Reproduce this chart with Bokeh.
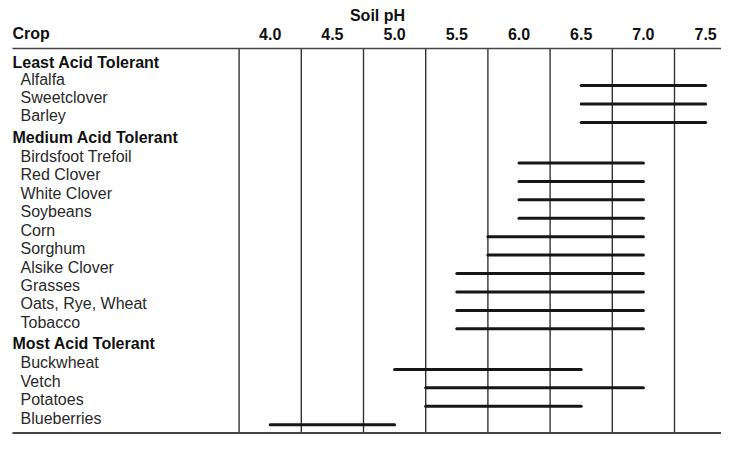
from bokeh.plotting import figure
from bokeh.models import Range1d, ColumnDataSource
from bokeh.embed import file_html
from bokeh.resources import INLINE
from bokeh.core.properties import value

# ---------------- data ----------------
title_text = "Soil pH"
column_header = "Crop"
ph_ticks = [4.0, 4.5, 5.0, 5.5, 6.0, 6.5, 7.0, 7.5]
tick_labels = ["4.0", "4.5", "5.0", "5.5", "6.0", "6.5", "7.0", "7.5"]

groups = ["Least Acid Tolerant", "Medium Acid Tolerant", "Most Acid Tolerant"]

least_crops = ["Alfalfa", "Sweetclover", "Barley"]
least_low = [6.5, 6.5, 6.5]
least_high = [7.5, 7.5, 7.5]

medium_crops = ["Birdsfoot Trefoil", "Red Clover", "White Clover", "Soybeans", "Corn",
                "Sorghum", "Alsike Clover", "Grasses", "Oats, Rye, Wheat", "Tobacco"]
medium_low = [6.0, 6.0, 6.0, 6.0, 5.75, 5.75, 5.5, 5.5, 5.5, 5.5]
medium_high = [7.0, 7.0, 7.0, 7.0, 7.0, 7.0, 7.0, 7.0, 7.0, 7.0]

most_crops = ["Buckwheat", "Vetch", "Potatoes", "Blueberries"]
most_low = [5.0, 5.25, 5.25, 4.0]
most_high = [6.5, 7.0, 6.5, 5.0]

# ---------------- layout ----------------
W, H = 721, 435
PX = 124.4                      # pixels per pH unit
X0 = 6.5 - 580.7 / PX
X1 = X0 + W / PX
RU = 18.43                      # pixels per row
Y_TOP = -4.265
Y_BOT = Y_TOP + H / RU

FONT = value("Liberation Sans")
FS = "16px"

sections = [
    (groups[0], least_crops, least_low, least_high),
    (groups[1], medium_crops, medium_low, medium_high),
    (groups[2], most_crops, most_low, most_high),
]

head_y, head_t = [], []
crop_y, crop_t, lo, hi = [], [], [], []
pos = -0.9
for i, (g, crops, l, h) in enumerate(sections):
    if i > 0:
        pos += 1.15
    head_y.append(pos)
    head_t.append(g)
    pos += 0.9 if i == 0 else 1.05
    for j, c in enumerate(crops):
        if j > 0:
            pos += 1.0
        crop_y.append(pos)
        crop_t.append(c)
        lo.append(l[j])
        hi.append(h[j])

top_line = -1.66
bottom_line = pos + 0.8
header_row = -2.47
title_row = -3.47
bar_offset = 0.35

p = figure(width=W, height=H, output_backend="svg", toolbar_location=None,
           x_range=Range1d(X0, X1), y_range=Range1d(Y_BOT, Y_TOP),
           x_axis_location=None, y_axis_location=None, min_border=0,
           background_fill_color="white", border_fill_color="white")
p.outline_line_color = None
p.grid.visible = False

# vertical column rules at half-steps between tick values
bounds = [t - 0.25 for t in ph_ticks]
p.segment(x0=bounds, x1=bounds, y0=[top_line] * len(bounds), y1=[bottom_line] * len(bounds),
          line_color="#333333", line_width=1.4)

# horizontal rules
left_x = X0 + 12 / PX
p.segment(x0=[left_x], x1=[X1], y0=[top_line], y1=[top_line], line_color="#444444", line_width=1.6)
p.segment(x0=[left_x], x1=[X1], y0=[bottom_line], y1=[bottom_line], line_color="#444444", line_width=2.0)

# range bars
bars = ColumnDataSource(dict(lo=lo, hi=hi, y=[v + bar_offset for v in crop_y]))
p.segment(x0="lo", x1="hi", y0="y", y1="y", source=bars, line_color="#161616", line_width=3.0,
          line_cap="round")

# texts
p.text(x=[X0 + 12 / PX] * len(head_y), y=head_y, text=head_t, text_font=FONT, text_font_size=FS,
       text_font_style="bold", text_color="#111111", text_baseline="middle", text_align="left")
p.text(x=[X0 + 20 / PX] * len(crop_y), y=crop_y, text=crop_t, text_font=FONT, text_font_size=FS,
       text_color="#2a2a2a", text_baseline="middle", text_align="left")
p.text(x=[X0 + 12 / PX], y=[header_row], text=[column_header], text_font=FONT, text_font_size=FS,
       text_font_style="bold", text_color="#111111", text_baseline="middle", text_align="left")
p.text(x=ph_ticks, y=[header_row] * len(ph_ticks), text=tick_labels, text_font=FONT, text_font_size=FS,
       text_font_style="bold", text_color="#111111", text_baseline="middle", text_align="center")
p.text(x=[X0 + 377 / PX], y=[title_row], text=[title_text], text_font=FONT, text_font_size=FS,
       text_font_style="bold", text_color="#111111", text_baseline="middle", text_align="center")

open("out.html", "w").write(file_html(p, INLINE))
